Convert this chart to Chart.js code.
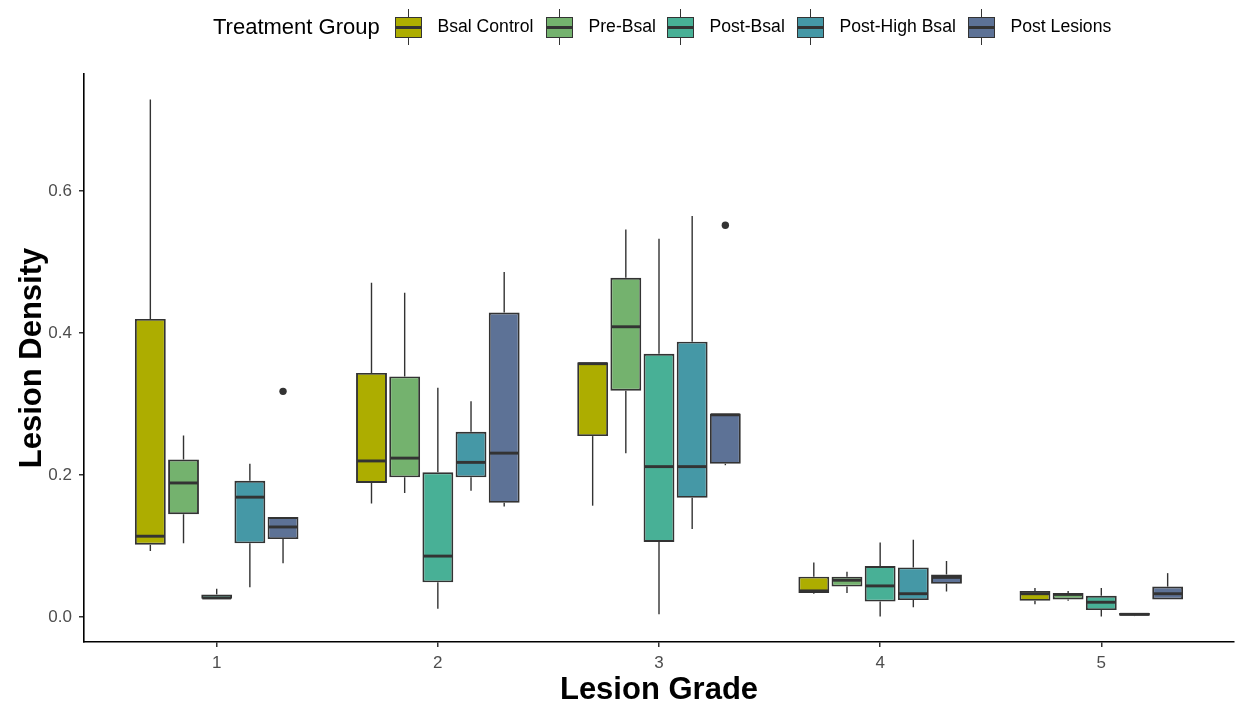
<!DOCTYPE html>
<html>
<head>
<meta charset="utf-8">
<script src="https://cdn.jsdelivr.net/npm/chart.js@4.4.1/dist/chart.umd.min.js"></script>
<style>
  html, body { margin: 0; padding: 0; background: #ffffff; }
  #wrap { position: relative; width: 1238px; height: 707px; overflow: hidden; }
  #chart { position: absolute; left: 0; top: 0; }
  #legend { position: absolute; left: 0; top: 0; width: 1238px; height: 60px;
            font-family: 'Liberation Sans', Arial, sans-serif; color: #000; }
  .lg-title { position: absolute; left: 213px; top: 16px; font-size: 22px; line-height: 22px; white-space: nowrap; }
  .lg-text { position: absolute; top: 18px; font-size: 17.6px; line-height: 17.6px; white-space: nowrap; }
  .lg-key { position: absolute; top: 9px; width: 27px; height: 36px; }
  .lg-key .wh { position: absolute; left: 12.8px; top: 0; width: 1.4px; height: 36px; background: #333; }
  .lg-key .bx { position: absolute; left: 0; top: 8px; width: 27px; height: 21px; box-sizing: border-box; border: 1.8px solid #333; }
  .lg-key .md { position: absolute; left: 0; top: 17.2px; width: 27px; height: 2.6px; background: #333; }
</style>
</head>
<body>
<div id="wrap">
  <canvas id="chart" width="1238" height="707"></canvas>
  <div id="legend"></div>
</div>
<script>
// ---------------- data ----------------
const grades = ['1', '2', '3', '4', '5'];
const groupNames = ['Bsal Control', 'Pre-Bsal', 'Post-Bsal', 'Post-High Bsal', 'Post Lesions'];
const groupColors = ['#ADAD00', '#74B26E', '#48B096', '#4598A6', '#5D7296'];
const yTicks = [0.0, 0.2, 0.4, 0.6];

// each entry per grade: [min, q1, median, q3, max]
const bsalControl = [
  [0.093, 0.102, 0.114, 0.420, 0.729],
  [0.160, 0.189, 0.220, 0.344, 0.471],
  [0.157, 0.255, 0.357, 0.359, 0.359],
  [0.033, 0.034, 0.037, 0.057, 0.077],
  [0.018, 0.023, 0.033, 0.037, 0.041]
];
const preBsal = [
  [0.104, 0.145, 0.189, 0.222, 0.256],
  [0.175, 0.197, 0.224, 0.339, 0.457],
  [0.231, 0.319, 0.409, 0.478, 0.546],
  [0.034, 0.043, 0.052, 0.057, 0.064],
  [0.023, 0.025, 0.032, 0.034, 0.037]
];
const postBsal = [
  [0.026, 0.026, 0.027, 0.032, 0.040],
  [0.012, 0.049, 0.086, 0.204, 0.323],
  [0.004, 0.106, 0.212, 0.371, 0.533],
  [0.001, 0.022, 0.044, 0.072, 0.105],
  [0.001, 0.010, 0.021, 0.030, 0.041]
];
const postHighBsal = [
  [0.042, 0.104, 0.169, 0.192, 0.216],
  [0.178, 0.197, 0.218, 0.261, 0.304],
  [0.124, 0.168, 0.212, 0.388, 0.565],
  [0.014, 0.024, 0.033, 0.070, 0.109],
  [0.0015, 0.002, 0.004, 0.006, 0.006]
];
const postLesions = [
  [0.076, 0.110, 0.127, 0.141, 0.141],
  [0.156, 0.161, 0.231, 0.429, 0.486],
  [0.214, 0.216, 0.285, 0.287, 0.287],
  [0.036, 0.047, 0.056, 0.060, 0.079],
  [0.025, 0.025, 0.033, 0.043, 0.062]
];
const outlierGroup = ['Post Lesions', 'Post Lesions'];
const outlierGrade = ['1', '3'];
const outlierValue = [0.318, 0.552];

// ---------------- build ----------------
const seriesStats = [bsalControl, preBsal, postBsal, postHighBsal, postLesions];
const DODGE = 0.15;               // dodge step in category units (0.75 / 5)
const FONT = "'Liberation Sans', Arial, sans-serif";
const posOf = (gradeIdx, groupIdx) => gradeIdx + 1 + (groupIdx - 2) * DODGE;

const datasets = groupNames.map((name, gi) => ({
  type: 'bar',
  label: name,
  stats: seriesStats[gi],
  data: seriesStats[gi].map((s, ci) => ({ x: posOf(ci, gi), y: [s[1], s[3]] })),
  backgroundColor: groupColors[gi],
  borderColor: '#333333',
  borderWidth: 1.9,
  borderSkipped: false,
  grouped: false,
  categoryPercentage: 1,
  barPercentage: 0.93,
  order: 2
}));

datasets.push({
  type: 'scatter',
  label: 'outliers',
  data: outlierValue.map((v, k) => ({
    x: posOf(grades.indexOf(outlierGrade[k]), groupNames.indexOf(outlierGroup[k])),
    y: v
  })),
  pointRadius: 3.7,
  pointBackgroundColor: '#333333',
  pointBorderWidth: 0,
  order: 1
});

const boxExtras = {
  id: 'boxExtras',
  afterDatasetsDraw(chart) {
    const { ctx } = chart;
    const y = chart.scales.y;
    ctx.save();
    ctx.strokeStyle = '#333333';
    chart.data.datasets.forEach((ds, di) => {
      if (!ds.stats) return;
      const meta = chart.getDatasetMeta(di);
      meta.data.forEach((bar, i) => {
        const s = ds.stats[i];
        const cx = bar.x;
        const half = bar.width / 2;
        ctx.lineWidth = 1.4;
        ctx.beginPath();
        ctx.moveTo(cx, y.getPixelForValue(s[3]));
        ctx.lineTo(cx, y.getPixelForValue(s[4]));
        ctx.moveTo(cx, y.getPixelForValue(s[1]));
        ctx.lineTo(cx, y.getPixelForValue(s[0]));
        ctx.stroke();
        ctx.lineWidth = 2.9;
        ctx.beginPath();
        const my = y.getPixelForValue(s[2]);
        ctx.moveTo(cx - half + 1, my);
        ctx.lineTo(cx + half - 1, my);
        ctx.stroke();
      });
    });
    ctx.restore();
  }
};

new Chart(document.getElementById('chart'), {
  type: 'bar',
  data: { datasets },
  plugins: [boxExtras],
  options: {
    responsive: false,
    animation: false,
    events: [],
    layout: { padding: { top: 74, right: 1, left: 0, bottom: 0 } },
    plugins: { legend: { display: false }, tooltip: { enabled: false } },
    scales: {
      x: {
        type: 'linear',
        min: 0.4,
        max: 5.6,
        offset: false,
        afterBuildTicks: s => { s.ticks = grades.map((g, i) => ({ value: i + 1 })); },
        afterFit: s => { s.height = 65; },
        ticks: {
          callback: v => grades[Math.round(v) - 1],
          color: '#4D4D4D',
          font: { family: FONT, size: 17 },
          padding: 6,
          autoSkip: false,
          maxRotation: 0
        },
        grid: { drawOnChartArea: false, drawTicks: true, tickLength: 5, color: '#333333', lineWidth: 1.5, offset: false },
        border: { display: true, color: '#000000', width: 1.6 },
        title: {
          display: true, text: 'Lesion Grade', color: '#000000',
          font: { family: FONT, size: 31, weight: 'bold', lineHeight: 1 },
          padding: { top: 0, bottom: 1.5 }
        }
      },
      y: {
        min: -0.035,
        max: 0.765,
        afterBuildTicks: s => { s.ticks = yTicks.map(v => ({ value: v })); },
        afterFit: s => { s.width = 84; },
        ticks: {
          callback: v => Number(v).toFixed(1),
          color: '#4D4D4D',
          font: { family: FONT, size: 17 },
          padding: 7
        },
        grid: { drawOnChartArea: false, drawTicks: true, tickLength: 5, color: '#333333', lineWidth: 1.5 },
        border: { display: true, color: '#000000', width: 1.6 },
        title: {
          display: true, text: 'Lesion Density', color: '#000000',
          font: { family: FONT, size: 31, weight: 'bold', lineHeight: 1 },
          padding: { top: 16.5, bottom: 0 }
        }
      }
    }
  }
});

// ---------------- legend ----------------
const legend = document.getElementById('legend');
const keyLeft = [395, 546, 667, 797, 968];
const lt = document.createElement('span');
lt.className = 'lg-title';
lt.textContent = 'Treatment Group';
legend.appendChild(lt);
groupNames.forEach((name, i) => {
  const key = document.createElement('span');
  key.className = 'lg-key';
  key.style.left = keyLeft[i] + 'px';
  const wh = document.createElement('span'); wh.className = 'wh';
  const bx = document.createElement('span'); bx.className = 'bx'; bx.style.background = groupColors[i];
  const md = document.createElement('span'); md.className = 'md';
  key.appendChild(wh); key.appendChild(bx); key.appendChild(md);
  legend.appendChild(key);
  const tx = document.createElement('span');
  tx.className = 'lg-text';
  tx.style.left = (keyLeft[i] + 42.5) + 'px';
  tx.textContent = name;
  legend.appendChild(tx);
});
</script>
</body>
</html>
